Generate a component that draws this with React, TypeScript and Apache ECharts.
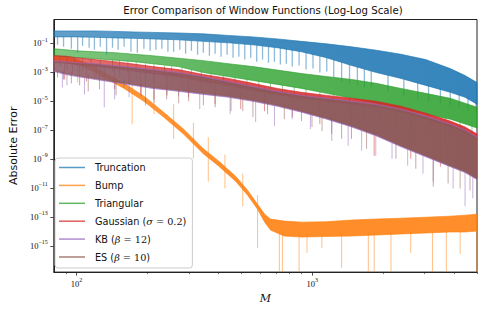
import React, { useEffect, useRef } from "react";
import * as echarts from "echarts";

// ---------- texts ----------
const TITLE = "Error Comparison of Window Functions (Log-Log Scale)";
const Y_LABEL = "Absolute Error";
const X_LABEL = "M";
const SERIES_NAMES = ["Truncation", "Bump", "Triangular", "Gaussian (σ = 0.2)", "KB (β = 12)", "ES (β = 10)"];
const SERIES_COLORS = ["#1f77b4", "#ff7f0e", "#2ca02c", "#d62728", "#9467bd", "#8c564b"];

// ---------- axes ----------
const X_MIN = 80;
const X_MAX = 5000;
const Y_MIN_LOG10 = -16.81;
const Y_MAX_LOG10 = 0.63;
const X_MAJOR_TICKS = [100, 1000];
const X_MINOR_TICKS = [90, 200, 300, 400, 500, 600, 700, 800, 900, 2000, 3000, 4000, 5000];
const Y_TICKS_LOG10 = [-15, -13, -11, -9, -7, -5, -3, -1];

// ---------- data (values are log10 of the absolute error) ----------
const GRID_M = [80, 90, 100, 120, 145, 175, 210, 270, 345, 440, 560, 710, 900, 1150, 1470, 1870, 2380, 3030, 3850, 4450, 5000];

// Truncation: upper envelope / lower edge of the dense band
const truncTop = [-0.16, -0.16, -0.16, -0.16, -0.19, -0.23, -0.26, -0.3, -0.36, -0.47, -0.57, -0.71, -0.88, -1.05, -1.26, -1.49, -1.77, -2.14, -2.76, -3.24, -3.72];
const truncLow = [-0.57, -0.57, -0.57, -0.6, -0.64, -0.67, -0.71, -0.77, -0.88, -0.98, -1.12, -1.32, -1.6, -2.01, -2.55, -3.03, -3.44, -3.92, -4.4, -4.74, -5.22];
// [M, band edge, dip tip]
const truncDips = [
  [83, -0.57, -1.12], [88, -0.57, -1.25], [95, -0.57, -1.39], [101, -0.57, -1.66], [106, -0.58, -1.19],
  [113, -0.59, -1.32], [119, -0.6, -1.46], [126, -0.61, -1.25], [134, -0.62, -1.8], [142, -0.63, -1.32],
  [150, -0.64, -1.46], [159, -0.65, -1.25], [170, -0.67, -1.6], [181, -0.68, -1.66], [193, -0.7, -1.39],
  [205, -0.71, -1.53], [217, -0.72, -1.46], [230, -0.73, -1.39], [244, -0.75, -1.6], [258, -0.76, -1.6],
  [274, -0.77, -1.46], [290, -0.8, -1.73], [307, -0.82, -1.53], [326, -0.85, -1.8], [345, -0.88, -1.66],
  [366, -0.9, -1.87], [387, -0.93, -1.73], [410, -0.95, -1.94], [435, -0.98, -1.8], [461, -1.01, -2.01],
  [488, -1.04, -1.94], [517, -1.07, -2.14], [548, -1.1, -2.01], [581, -1.14, -2.28], [615, -1.18, -2.14],
  [652, -1.22, -2.35], [691, -1.27, -2.28], [732, -1.32, -2.48], [776, -1.37, -2.42], [822, -1.43, -2.62],
  [879, -1.5, -2.55], [941, -1.6, -2.83], [1007, -1.7, -2.76], [1077, -1.85, -3.03], [1152, -2.0, -2.96],
  [1233, -2.15, -3.37], [1332, -2.3, -3.65], [1439, -2.45, -3.78], [1554, -2.6, -3.92], [1663, -2.75, -4.06],
  [1779, -2.9, -4.06], [2096, -3.2, -4.33], [2446, -3.5, -4.61], [2801, -3.7, -4.88], [3114, -3.9, -5.02],
  [3497, -4.1, -5.15], [3850, -4.3, -5.29], [4200, -4.5, -5.43], [4580, -4.7, -5.56], [4948, -4.95, -5.7],
];

// Bump
const bumpM = [80, 90, 100, 114, 131, 159, 193, 234, 284, 345, 399, 474, 532, 586, 628, 665, 760, 905, 1150, 1466, 1870, 2377, 3030, 3850, 4450, 5000];
const bumpTop = [-1.87, -1.94, -2.14, -2.48, -3.03, -3.78, -4.67, -5.77, -6.93, -8.3, -9.12, -10.21, -11.17, -12.13, -12.81, -13.15, -13.29, -13.36, -13.33, -13.22, -13.15, -13.09, -13.02, -12.95, -12.88, -12.81];
const bumpLow = [-2.21, -2.28, -2.48, -2.83, -3.37, -4.13, -5.02, -6.11, -7.27, -8.64, -9.46, -10.56, -11.51, -12.47, -13.36, -13.91, -14.32, -14.39, -14.35, -14.32, -14.25, -14.18, -14.11, -14.04, -14.04, -13.98];
const bumpDips = [
  [101, -2.28, -3.72], [119, -2.6, -3.51], [172, -3.5, -6.59], [213, -4.3, -5.9], [258, -5.2, -7.61],
  [313, -6.5, -8.98], [362, -7.5, -10.56], [426, -8.7, -11.04], [507, -10.0, -12.27], [586, -11.5, -15.14],
  [725, -14.0, -16.78], [747, -14.0, -16.78], [879, -14.1, -16.78], [950, -14.1, -15.48], [1098, -14.1, -15.14],
  [1332, -14.1, -16.51], [1729, -14.1, -16.78], [1831, -14.1, -16.78], [2158, -14.0, -16.78], [2617, -14.0, -15.48],
  [3236, -14.0, -16.78], [3705, -14.0, -16.78], [4240, -14.0, -15.55], [4990, -14.0, -16.78],
];

// Triangular
const triTop = [-1.39, -1.46, -1.53, -1.6, -1.66, -1.77, -1.87, -2.04, -2.21, -2.42, -2.62, -2.86, -3.1, -3.31, -3.51, -3.78, -4.13, -4.47, -4.81, -5.15, -5.43];
const triLow = [-1.87, -1.94, -2.01, -2.07, -2.18, -2.28, -2.42, -2.62, -3.03, -3.31, -3.58, -3.85, -4.13, -4.47, -4.81, -5.15, -5.5, -5.91, -6.25, -6.59, -6.86];
const triDips = [
  [85, -1.94, -2.55], [91, -1.95, -2.83], [98, -2.0, -2.42], [106, -2.05, -2.96], [115, -2.07, -2.69],
  [126, -2.1, -3.17], [142, -2.15, -2.96], [152, -2.2, -3.37], [165, -2.25, -3.1], [179, -2.3, -3.51],
  [196, -2.4, -5.29], [213, -2.45, -3.65], [236, -2.55, -3.37], [253, -2.6, -3.78], [280, -2.7, -3.92],
  [307, -2.8, -3.65], [338, -2.95, -4.19], [372, -3.05, -4.06], [419, -3.2, -4.33], [470, -3.35, -4.19],
  [528, -3.45, -4.61], [593, -3.6, -4.47], [665, -3.75, -4.81], [747, -3.9, -4.74], [838, -4.0, -5.15],
  [941, -4.15, -5.02], [1077, -4.35, -5.43], [1233, -4.55, -5.56], [1439, -4.75, -5.84], [1663, -5.0, -6.11],
  [1922, -5.2, -6.38], [2265, -5.4, -6.66], [2617, -5.7, -6.93], [3114, -5.95, -7.27], [3669, -6.15, -7.61],
  [4240, -6.35, -7.75], [4761, -6.6, -8.03],
];

// Gaussian (sigma = 0.2)
const gaussTop = [-1.87, -1.9, -2.01, -2.14, -2.28, -2.45, -2.62, -2.83, -3.17, -3.44, -3.78, -4.13, -4.4, -4.61, -4.81, -5.02, -5.36, -5.84, -6.38, -6.79, -7.27];
const gaussLow = [-2.35, -2.38, -2.48, -2.62, -2.76, -2.93, -3.1, -3.31, -3.65, -3.92, -4.26, -4.54, -4.81, -5.02, -5.22, -5.43, -5.77, -6.25, -6.79, -7.2, -7.68];
const gaussDips = [
  [89, -2.38, -3.51], [96, -2.45, -3.17], [103, -2.4, -3.92], [110, -2.55, -3.65], [121, -2.5, -3.37],
  [131, -2.65, -3.37], [145, -2.62, -4.19], [167, -2.85, -3.85], [187, -2.8, -4.54], [213, -3.05, -4.19],
  [242, -3.05, -4.61], [298, -3.25, -4.74], [387, -3.5, -5.22], [497, -3.8, -5.56], [627, -4.05, -5.7],
  [822, -4.5, -6.11], [1077, -4.85, -6.59], [1466, -5.1, -7.61], [1830, -5.3, -8.78], [2617, -5.7, -8.98],
  [3497, -6.2, -9.53],
];

// KB (beta = 12)
const kbTop = [-2.21, -2.28, -2.35, -2.42, -2.55, -2.69, -2.83, -3.03, -3.31, -3.65, -3.99, -4.33, -4.61, -4.81, -5.02, -5.22, -5.56, -6.04, -6.59, -7.0, -7.48];
const kbLow = [-2.96, -3.17, -3.31, -3.51, -3.72, -3.92, -4.13, -4.33, -4.54, -4.74, -5.02, -5.36, -5.77, -6.25, -6.79, -7.41, -8.16, -8.85, -9.53, -9.94, -10.42];
const kbDips = [
  [87, -2.96, -4.06], [91, -3.1, -3.92], [108, -3.3, -4.54], [131, -3.35, -5.43], [145, -3.7, -4.88],
  [167, -3.55, -4.74], [213, -4.1, -5.15], [271, -4.3, -4.61], [333, -4.45, -5.56], [448, -4.75, -5.9],
  [575, -5.05, -6.45], [691, -5.3, -6.72], [822, -5.45, -6.25], [982, -5.7, -6.93], [1210, -6.1, -7.75],
  [1420, -6.5, -8.09], [1620, -6.9, -8.43], [1860, -7.4, -8.78], [2180, -7.9, -8.98], [2540, -8.3, -9.46],
  [2950, -8.7, -10.01], [3260, -9.1, -10.56], [3960, -9.6, -11.04], [4450, -9.9, -12.27], [4800, -10.1, -11.72],
];

// ES (beta = 10)
const esTop = [-2.28, -2.35, -2.42, -2.48, -2.62, -2.76, -2.89, -3.1, -3.37, -3.72, -4.06, -4.4, -4.67, -4.88, -5.08, -5.29, -5.63, -6.11, -6.66, -7.07, -7.55];
const esLow = [-2.89, -3.1, -3.24, -3.44, -3.65, -3.85, -4.06, -4.26, -4.47, -4.67, -4.95, -5.29, -5.7, -6.18, -6.72, -7.34, -8.09, -8.78, -9.46, -9.87, -10.35];
const esDips = [
  [83, -2.89, -3.37], [88, -2.95, -3.51], [95, -3.0, -3.78], [112, -3.15, -4.33], [125, -3.2, -4.19],
  [147, -3.4, -4.61], [159, -3.5, -4.06], [188, -3.75, -4.67], [213, -4.06, -4.88], [241, -3.95, -4.88],
  [271, -4.26, -5.15], [299, -4.15, -5.02], [345, -4.47, -5.29], [387, -4.35, -5.43], [452, -4.5, -5.7],
  [507, -4.85, -5.7], [560, -4.95, -6.11], [646, -5.1, -5.9], [761, -5.2, -6.25], [900, -5.7, -6.38],
  [997, -5.75, -6.79], [1100, -6.0, -7.07], [1209, -6.1, -7.27], [1332, -6.5, -7.61], [1700, -7.0, -8.3],
  [2265, -7.8, -8.98], [2750, -8.4, -9.67], [3260, -8.9, -10.9], [3770, -9.3, -10.69], [4240, -9.7, -11.04],
  [4670, -10.0, -11.17],
];

// ---------- helpers ----------
function hexToRgba(hex: string, a: number) {
  const n = parseInt(hex.slice(1), 16);
  return `rgba(${(n >> 16) & 255},${(n >> 8) & 255},${n & 255},${a})`;
}
const pow10 = (e: number) => Math.pow(10, e);
const bandData = (ms: number[], top: number[], low: number[]) => ms.map((m, i) => [m, pow10(top[i]), pow10(low[i])]);
const dipData = (list: number[][]) => list.map(([m, a, b]) => [m, pow10(a), pow10(b)]);

const bandRenderer = (color: string, a0: number, a1: number) => (params: any, api: any) => {
  if (params.dataIndexInside !== 0) return null;
  const n = params.dataInsideLength;
  const upper: number[][] = [];
  const lower: number[][] = [];
  for (let i = 0; i < n; i++) {
    upper.push(api.coord([api.value(0, i), api.value(1, i)]));
    lower.push(api.coord([api.value(0, i), api.value(2, i)]));
  }
  const grad = new echarts.graphic.LinearGradient(0, 0, 1, 0, [
    { offset: 0, color: hexToRgba(color, a0) },
    { offset: 0.45, color: hexToRgba(color, (a0 + a1) / 2 + 0.05) },
    { offset: 1, color: hexToRgba(color, a1) },
  ]);
  return {
    type: "polygon",
    shape: { points: upper.concat(lower.reverse()) },
    style: { fill: grad, stroke: hexToRgba(color, a1), lineWidth: 0.7 },
  };
};
const dipRenderer = (color: string, alpha: number, width: number) => (_params: any, api: any) => {
  const a = api.coord([api.value(0), api.value(1)]);
  const b = api.coord([api.value(0), api.value(2)]);
  return {
    type: "line",
    shape: { x1: a[0], y1: a[1], x2: b[0], y2: b[1] },
    style: { stroke: hexToRgba(color, alpha), lineWidth: width },
  };
};

const SERIES_DEF = [
  { m: GRID_M, top: truncTop, low: truncLow, dips: truncDips, dipW: 1.3, a0: 0.7, a1: 0.9 },
  { m: bumpM, top: bumpTop, low: bumpLow, dips: bumpDips, dipW: 1, a0: 0.8, a1: 0.88 },
  { m: GRID_M, top: triTop, low: triLow, dips: triDips, dipW: 1, a0: 0.6, a1: 0.88 },
  { m: GRID_M, top: gaussTop, low: gaussLow, dips: gaussDips, dipW: 1, a0: 0.65, a1: 0.9 },
  { m: GRID_M, top: kbTop, low: kbLow, dips: kbDips, dipW: 1, a0: 0.6, a1: 0.85 },
  { m: GRID_M, top: esTop, low: esLow, dips: esDips, dipW: 1, a0: 0.65, a1: 0.88 },
];

const LEGEND_RICH: Record<string, string> = {
  "Gaussian (σ = 0.2)": "Gaussian ({i|σ}{r| = 0.2})",
  "KB (β = 12)": "KB ({i|β}{r| = 12})",
  "ES (β = 10)": "ES ({i|β}{r| = 10})",
};

const powLabel = (v: number) => {
  const e = Math.round(Math.log10(v));
  return `{b|10}{s|${e < 0 ? "\u2212" + -e : e}}`;
};
const tickRich = {
  b: { fontFamily: "Liberation Serif", fontSize: 8.5, lineHeight: 13, color: "#111" },
  s: { fontFamily: "Liberation Serif", fontSize: 6, lineHeight: 6, verticalAlign: "top", color: "#111" },
};

export default function App() {
  const ref = useRef<HTMLDivElement>(null);
  useEffect(() => {
    if (!ref.current) return;
    const chart = echarts.init(ref.current, undefined, { renderer: "svg" });
    const series: any[] = [];
    SERIES_DEF.forEach((d, k) => {
      const color = SERIES_COLORS[k];
      series.push({
        name: SERIES_NAMES[k] + " dips",
        type: "custom",
        clip: true,
        silent: true,
        encode: { x: 0, y: [1, 2] },
        data: dipData(d.dips),
        renderItem: dipRenderer(color, 0.5, d.dipW),
      });
      series.push({
        name: SERIES_NAMES[k],
        type: "custom",
        clip: true,
        silent: true,
        itemStyle: { color },
        encode: { x: 0, y: [1, 2] },
        data: bandData(d.m, d.top, d.low),
        renderItem: bandRenderer(color, d.a0, d.a1),
      });
    });

    const axisColor = "#222";
    chart.setOption({
      animation: false,
      backgroundColor: "#fff",
      title: {
        text: TITLE,
        left: 263,
        top: 4,
        textAlign: "center",
        padding: 0,
        textStyle: { fontFamily: "DejaVu Sans", fontSize: 10.2, fontWeight: "normal", color: "#111", lineHeight: 13 },
      },
      legend: {
        orient: "vertical",
        left: 55,
        top: 158,
        data: SERIES_NAMES,
        selectedMode: false,
        icon: "rect",
        itemWidth: 26,
        itemHeight: 1.5,
        itemGap: 3.9,
        padding: [2.5, 6, 4, 4],
        backgroundColor: "rgba(255,255,255,0.8)",
        borderColor: "#cccccc",
        borderWidth: 1,
        borderRadius: 3,
        itemStyle: { opacity: 0.75 },
        formatter: (name: string) => LEGEND_RICH[name] || name,
        textStyle: {
          fontFamily: "DejaVu Sans",
          fontSize: 9.7,
          color: "#111",
          lineHeight: 14,
          padding: [0, 0, 0, 5],
          rich: {
            i: { fontFamily: "DejaVu Serif", fontStyle: "italic", fontSize: 9.7, lineHeight: 14, color: "#111" },
            r: { fontFamily: "DejaVu Serif", fontSize: 9.7, lineHeight: 14, color: "#111" },
          },
        },
      },
      grid: { left: 49, top: 19.5, right: 6, bottom: 34.5, show: true, borderColor: axisColor, borderWidth: 1 },
      xAxis: [
        {
          type: "log",
          logBase: 10,
          min: X_MIN,
          max: X_MAX,
          position: "bottom",
          name: X_LABEL,
          nameLocation: "middle",
          nameGap: 15,
          nameTextStyle: { fontFamily: "DejaVu Serif", fontStyle: "italic", fontSize: 11, color: "#111" },
          axisLine: { show: true, lineStyle: { color: axisColor, width: 1 } },
          axisTick: { show: true, length: 3.5, customValues: X_MAJOR_TICKS, lineStyle: { color: axisColor, width: 0.8 } },
          axisLabel: { show: true, margin: 5, customValues: X_MAJOR_TICKS, formatter: powLabel, rich: tickRich },
          splitLine: { show: false },
          minorTick: { show: false },
        },
        {
          type: "log",
          logBase: 10,
          min: X_MIN,
          max: X_MAX,
          position: "bottom",
          axisLine: { show: false },
          axisTick: { show: true, length: 2, customValues: X_MINOR_TICKS, lineStyle: { color: axisColor, width: 0.6 } },
          axisLabel: { show: false },
          splitLine: { show: false },
        },
      ],
      yAxis: [
        {
          type: "log",
          logBase: 10,
          min: pow10(Y_MIN_LOG10),
          max: pow10(Y_MAX_LOG10),
          name: Y_LABEL,
          nameLocation: "middle",
          nameGap: 31,
          nameTextStyle: { fontFamily: "DejaVu Sans", fontSize: 11, color: "#111" },
          axisLine: { show: true, lineStyle: { color: axisColor, width: 1 } },
          axisTick: { show: true, length: 3.5, customValues: Y_TICKS_LOG10.map(pow10), lineStyle: { color: axisColor, width: 0.8 } },
          axisLabel: { show: true, margin: 6, customValues: Y_TICKS_LOG10.map(pow10), formatter: powLabel, rich: tickRich },
          splitLine: { show: false },
        },
      ],
      series,
    });
    return () => chart.dispose();
  }, []);
  return <div ref={ref} style={{ position: "fixed", left: 0, top: 0, width: 483, height: 309 }} />;
}
